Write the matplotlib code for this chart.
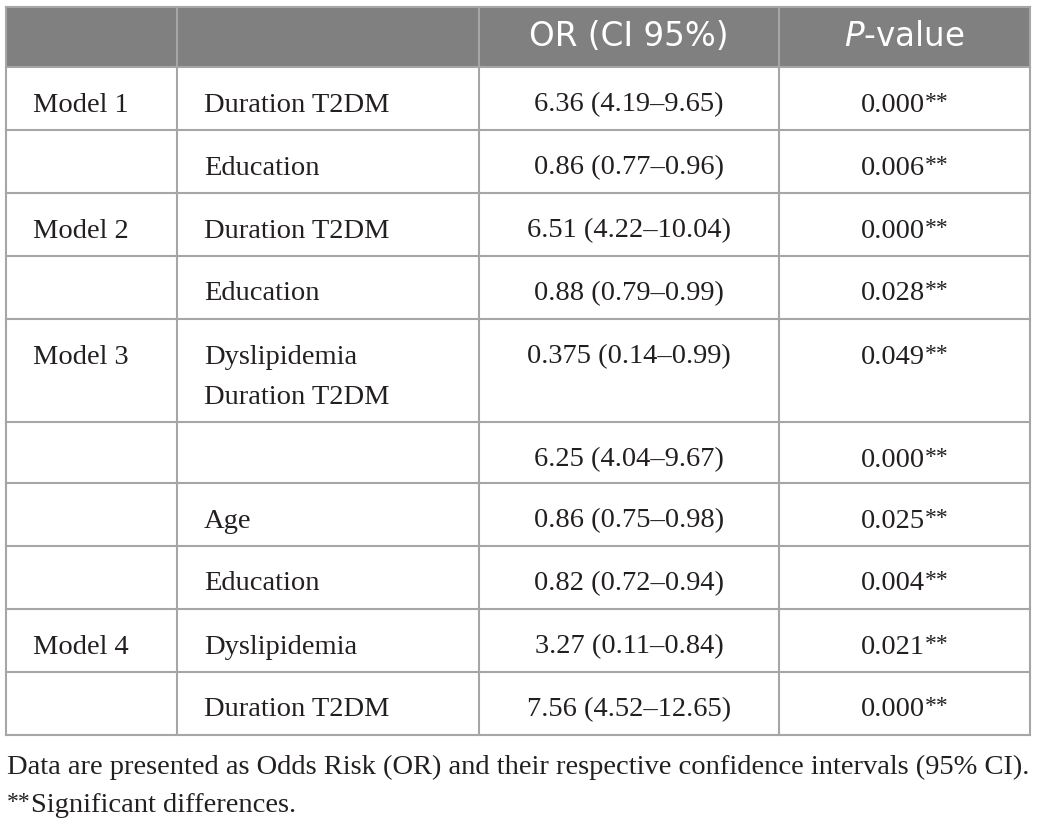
import matplotlib
matplotlib.use("Agg")
import matplotlib.pyplot as plt
from matplotlib.patches import Rectangle

# table content
headers = ["", "", "OR (CI 95%)", "$P$-value"]
models = ["Model 1", "", "Model 2", "", "Model 3", "", "", "", "Model 4", ""]
variables = ["Duration T2DM", "Education", "Duration T2DM", "Education",
             "Dyslipidemia\nDuration T2DM", "", "Age", "Education",
             "Dyslipidemia", "Duration T2DM"]
or_ci = ["6.36 (4.19–9.65)", "0.86 (0.77–0.96)", "6.51 (4.22–10.04)",
         "0.88 (0.79–0.99)", "0.375 (0.14–0.99)", "6.25 (4.04–9.67)",
         "0.86 (0.75–0.98)", "0.82 (0.72–0.94)", "3.27 (0.11–0.84)",
         "7.56 (4.52–12.65)"]
p_values = ["0.000", "0.006", "0.000", "0.028", "0.049",
            "0.000", "0.025", "0.004", "0.021", "0.000"]
p_marks = ["**"] * 10
notes = ["Data are presented as Odds Risk (OR) and their respective confidence intervals (95% CI).",
         "Significant differences."]
note_marks = ["", "**"]

# layout (pixels)
W, H = 1039, 824
col_x = [6, 177, 479, 779, 1030]
top, head_bottom = 7, 67
row_h = [63, 63, 63, 63, 103, 61, 63, 63, 63, 63]
line_col = "#a6a6a6"
head_col = "#808080"
text_col = "#231f20"
serif = "Liberation Serif"
fs_body = 20.5
fs_star = 17

fig = plt.figure(figsize=(W / 100, H / 100), dpi=100)
ax = fig.add_axes([0, 0, 1, 1])
ax.set_xlim(0, W)
ax.set_ylim(H, 0)
ax.axis("off")
renderer = fig.canvas.get_renderer()


def width_px(t):
    bb = t.get_window_extent(renderer=renderer)
    return bb.width


def starred(x, y, main, mark, align="center"):
    # main text followed by small raised asterisks, or marks first when align == "left"
    t1 = ax.text(0, y, main, fontsize=fs_body, family=serif, color=text_col,
                 va="baseline", ha="left")
    t2 = ax.text(0, y - 4, mark, fontsize=fs_star, family=serif, color=text_col,
                 va="baseline", ha="left")
    w1, w2 = width_px(t1), width_px(t2) if mark else 0
    if align == "center":
        x0 = x - (w1 + w2) / 2
        t1.set_x(x0)
        t2.set_x(x0 + w1)
    else:
        t2.set_x(x)
        t1.set_x(x + w2)


# header
ax.add_patch(Rectangle((col_x[0], top), col_x[-1] - col_x[0], head_bottom - top,
                       facecolor=head_col, edgecolor="none"))
for i, h in enumerate(headers):
    if h:
        ax.text((col_x[i] + col_x[i + 1]) / 2, 45.5, h, color="white",
                fontsize=23.5, family="DejaVu Sans", ha="center", va="baseline")

# row boundaries
row_y = [head_bottom]
for rh in row_h:
    row_y.append(row_y[-1] + rh)

# grid
lw = 1.5
ax.plot([col_x[0], col_x[-1]], [top, top], color=line_col, lw=lw)
for y in row_y:
    ax.plot([col_x[0], col_x[-1]], [y, y], color=line_col, lw=lw)
for x in col_x:
    ax.plot([x, x], [top, row_y[-1]], color=line_col, lw=lw)

# body
for r in range(len(models)):
    base = row_y[r] + 44.5
    ax.text(33, base, models[r], fontsize=fs_body, family=serif, color=text_col,
            va="baseline", ha="left")
    for k, line in enumerate(variables[r].split("\n")):
        if line:
            ax.text(204, base + 40 * k, line, fontsize=fs_body, family=serif,
                    color=text_col, va="baseline", ha="left")
    ax.text((col_x[2] + col_x[3]) / 2, base, or_ci[r], fontsize=fs_body, family=serif,
            color=text_col, va="baseline", ha="center")
    starred((col_x[3] + col_x[4]) / 2, base, p_values[r], p_marks[r])

# footnotes
for k, n in enumerate(notes):
    starred(7, 774 + 38 * k, n, note_marks[k], align="left")

fig.savefig("out.png", dpi=100)
